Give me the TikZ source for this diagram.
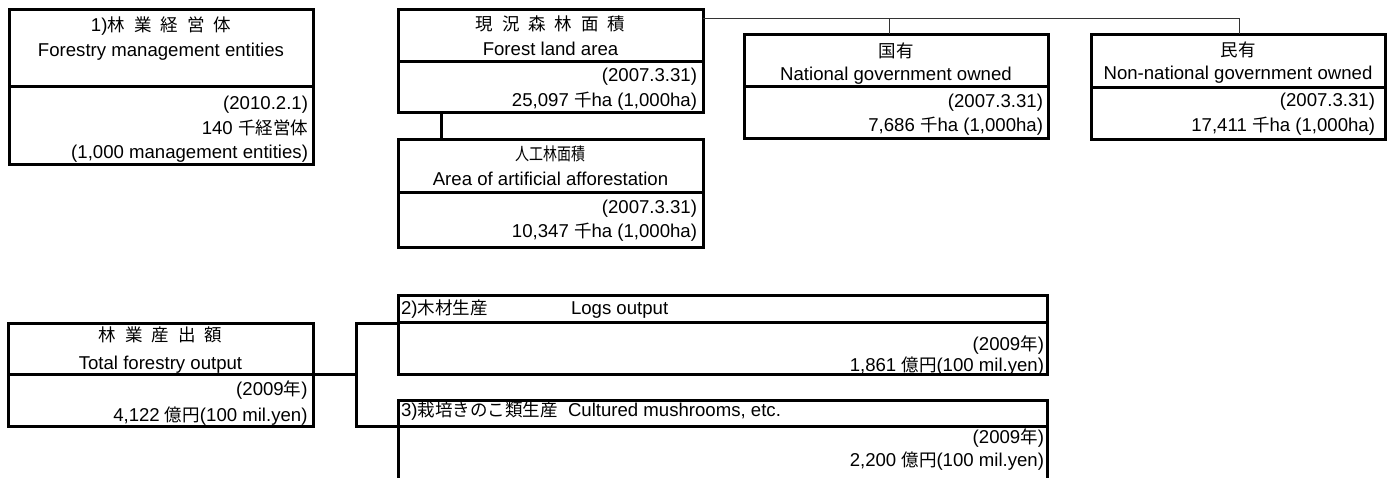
\documentclass[tikz,border=0pt]{standalone}
\usepackage{fontspec}
\setmainfont{Liberation Sans}
\newfontfamily\jpfont{Noto Sans CJK JP}
\usetikzlibrary{fit}
\newcommand{\J}[1]{{\fontsize{17.5pt}{17.5pt}\jpfont #1}}
\newcommand{\Jn}[1]{\scalebox{0.8}[1]{\J{#1}}}
\newcommand{\G}{\hspace{9pt}}
\begin{document}
\begin{tikzpicture}[x=1pt,y=-1pt,
  box/.style={draw=black, line width=3pt, inner sep=0pt, outer sep=0pt},
  div/.style={line width=3pt},
  link/.style={line width=3pt},
  thinlink/.style={line width=1pt, draw=black!80},
  txt/.style={inner sep=0pt, outer sep=0pt, font=\fontsize{18.6pt}{20pt}\selectfont},
  ttl/.style={txt, anchor=base},
  val/.style={txt, anchor=base east},
  hdr/.style={txt, anchor=base west}]
\useasboundingbox (0,0) rectangle (1389,477);
\clip (0,0) rectangle (1389,477);

% ---- boxes ----
\node[box, fit={(9,9) (313,164)}] (b1) {};
\draw[div] (b1.west |- 0,86) -- (b1.east |- 0,86);
\node[box, fit={(398,9) (703,112)}] (b2) {};
\draw[div] (b2.west |- 0,61) -- (b2.east |- 0,61);
\node[box, fit={(398,139) (703,247)}] (b3) {};
\draw[div] (b3.west |- 0,192) -- (b3.east |- 0,192);
\node[box, fit={(744,34) (1048,138)}] (bn) {};
\draw[div] (bn.west |- 0,86) -- (bn.east |- 0,86);
\node[box, fit={(1091,34) (1385,139)}] (bp) {};
\draw[div] (bp.west |- 0,87) -- (bp.east |- 0,87);
\node[box, fit={(8,323) (313,426)}] (bt) {};
\draw[div] (bt.west |- 0,374) -- (bt.east |- 0,374);
\node[box, fit={(398,295) (1047,374)}] (bl) {};
\draw[div] (bl.west |- 0,322) -- (bl.east |- 0,322);
\node[box, fit={(398,400) (1047,500)}] (bm) {};
\draw[div] (bm.west |- 0,426) -- (bm.east |- 0,426);

% ---- texts ----
\node[ttl] (t1a) at (161,31) {1)\J{林}\G\J{業}\G\J{経}\G\J{営}\G\J{体}};
\node[ttl] (t1b) at (161,56) {Forestry management entities};
\node[val] (v1a) at (308,109.5) {(2010.2.1)};
\node[val] (v1b) at (308,134.5) {140 \J{千経営体}};
\node[val] (v1c) at (308,158.5) {(1,000 management entities)};

\node[ttl] (t2a) at (550.5,30.5) {\J{現}\G\J{況}\G\J{森}\G\J{林}\G\J{面}\G\J{積}};
\node[ttl] (t2b) at (550.5,55) {Forest land area};
\node[val] (v2a) at (697,81) {(2007.3.31)};
\node[val] (v2b) at (697,106) {25,097 \J{千}ha (1,000ha)};

\node[ttl] (t3a) at (550.5,160.5) {\Jn{人工林面積}};
\node[ttl] (t3b) at (550.5,185.7) {Area of artificial afforestation};
\node[val] (v3a) at (697,213) {(2007.3.31)};
\node[val] (v3b) at (697,237.3) {10,347 \J{千}ha (1,000ha)};

\node[ttl] (tna) at (896,57.5) {\J{国有}};
\node[ttl] (tnb) at (896,80) {National government owned};
\node[val] (vna) at (1043,107.3) {(2007.3.31)};
\node[val] (vnb) at (1043,131.7) {7,686 \J{千}ha (1,000ha)};

\node[ttl] (tpa) at (1238,56.5) {\J{民有}};
\node[ttl] (tpb) at (1238,79) {Non-national government owned};
\node[val] (vpa) at (1375,106) {(2007.3.31)};
\node[val] (vpb) at (1375,131) {17,411 \J{千}ha (1,000ha)};

\node[ttl] (tta) at (160.5,341.5) {\J{林}\G\J{業}\G\J{産}\G\J{出}\G\J{額}};
\node[ttl] (ttb) at (160.5,369.3) {Total forestry output};
\node[val] (vta) at (307.5,395) {(2009\J{年})};
\node[val] (vtb) at (307.5,421.7) {4,122 \J{億円}(100 mil.yen)};

\node[hdr] (tla) at (401,314.5) {2)\J{木材生産}};
\node[hdr] (tlb) at (571,314.5) {Logs output};
\node[val] (vla) at (1044,350.7) {(2009\J{年})};
\node[val] (vlb) at (1044,371.7) {1,861 \J{億円}(100 mil.yen)};

\node[hdr] (tma) at (401,416) {3)\J{栽培きのこ類生産}};
\node[hdr] (tmb) at (568,416) {Cultured mushrooms, etc.};
\node[val] (vma) at (1044,443.3) {(2009\J{年})};
\node[val] (vmb) at (1044,466.7) {2,200 \J{億円}(100 mil.yen)};

% ---- connectors ----
\draw[link] (b2.south -| 441,0) -- (b3.north -| 441,0);
\coordinate (jr) at (1239,18);
\draw[thinlink] (b2.east |- jr) -- (jr) -- (bp.north -| jr);
\draw[thinlink] (bn.north -| 889,0) -- (889,18);

\coordinate (jt) at (356,323);
\coordinate (jm) at (356,374);
\coordinate (jb) at (356,426);
\draw[link] (bl.west |- jt) -- (jt) -- (jb) -- (bm.west |- jb);
\draw[link] (bt.east |- jm) -- (jm);
\end{tikzpicture}
\end{document}
